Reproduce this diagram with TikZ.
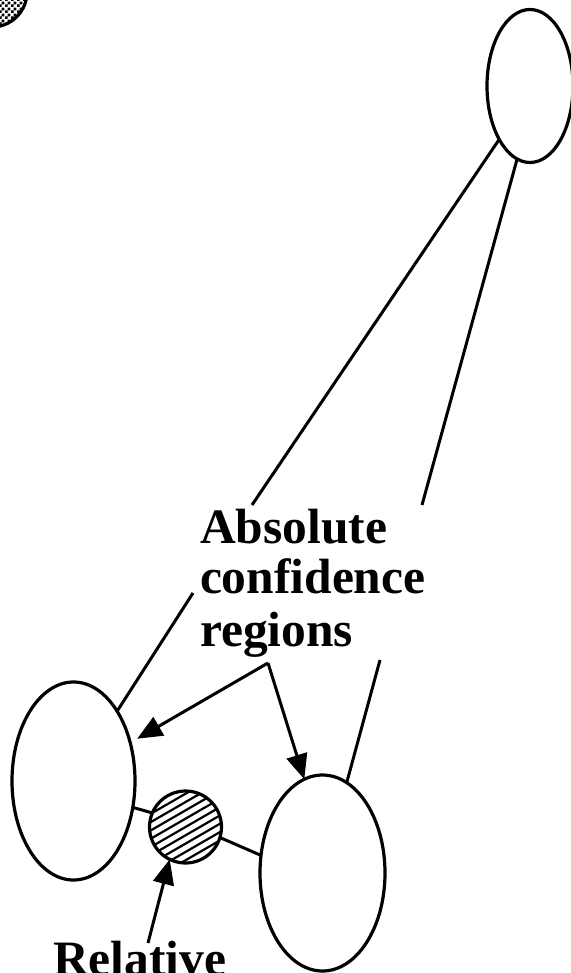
\documentclass[tikz,border=0pt]{standalone}
\usepackage{fontspec}
\setmainfont{Liberation Serif}
\usetikzlibrary{shapes.geometric,arrows.meta,patterns}
\pgfdeclarepatternformonly{checker}{\pgfqpoint{0pt}{0pt}}{\pgfqpoint{6pt}{6pt}}{\pgfqpoint{6pt}{6pt}}{%
  \pgfpathrectangle{\pgfqpoint{0pt}{0pt}}{\pgfqpoint{3pt}{3pt}}%
  \pgfpathrectangle{\pgfqpoint{3pt}{3pt}}{\pgfqpoint{3pt}{3pt}}%
  \pgfusepath{fill}}
\begin{document}
\begin{tikzpicture}[x=1pt,y=-1pt,
  oval/.style={draw,ellipse,line width=3.2pt,inner sep=0pt,outer sep=0pt},
  wire/.style={line width=3pt},
  arr/.style={line width=3pt,-{Triangle[length=25pt,width=21pt]}},
  lbl/.style={inner sep=0pt,outer sep=0pt,anchor=base west,font=\fontsize{49.5}{52}\selectfont\bfseries},
  hatch/.style={line width=2.2pt}]
\fill[white] (0,0) rectangle (570,973);
\useasboundingbox (0,0) rectangle (570,973);
% top-left partial checkered circle
\draw[line width=3.2pt,pattern=checker] (-8,-8) circle (35pt);
% ellipses
\node[oval,minimum width=86pt,minimum height=153pt] (TR) at (530,86) {};
\node[oval,minimum width=123pt,minimum height=198pt] (L) at (73.5,781) {};
\node[oval,minimum width=125pt,minimum height=196pt] (R) at (322.5,873) {};
% hatched circle
\node[circle,minimum size=72pt,inner sep=0pt,outer sep=0pt] (C) at (185.5,827) {};
\begin{scope}
\clip (185.5,827) circle (35pt);
\foreach \k in {-6,...,6}{
  \draw[hatch] ({185.5+3.6*\k-40},{827+6.24*\k+23.1}) -- ({185.5+3.6*\k+40},{827+6.24*\k-23.1});
}
\end{scope}
\draw[line width=3.2pt] (185.5,827) circle (36pt);
% labels
\node[lbl] (abs) at (200,543.3) {Absolute};
\node[lbl] (conf) at (200,593.3) {confidence};
\node[lbl] (reg) at (200,646.7) {regions};
\node[lbl] (rel) at (53,975) {Relative};
% free ends
\coordinate (e1) at (252,505);
\coordinate (e2) at (422,505);
\coordinate (e3) at (193,593);
\coordinate (e4) at (380,660);
\coordinate (rsplit) at (268,663);
\coordinate (reltail) at (148,943);
% connectors
\draw[wire] (TR.240) -- (e1);
\draw[wire] (TR.260) -- (e2);
\draw[wire] (L.58.5) -- (e3);
\draw[wire] (R.75) -- (e4);
\draw[wire] (L.-24) -- (C.157);
\draw[wire] (C.-17) -- (R.164);
\draw[arr,shorten >=8pt] (rsplit) -- (L.34);
\draw[arr] (rsplit) -- (R.101);
\draw[arr] (reltail) -- (C.244);
\end{tikzpicture}
\end{document}
